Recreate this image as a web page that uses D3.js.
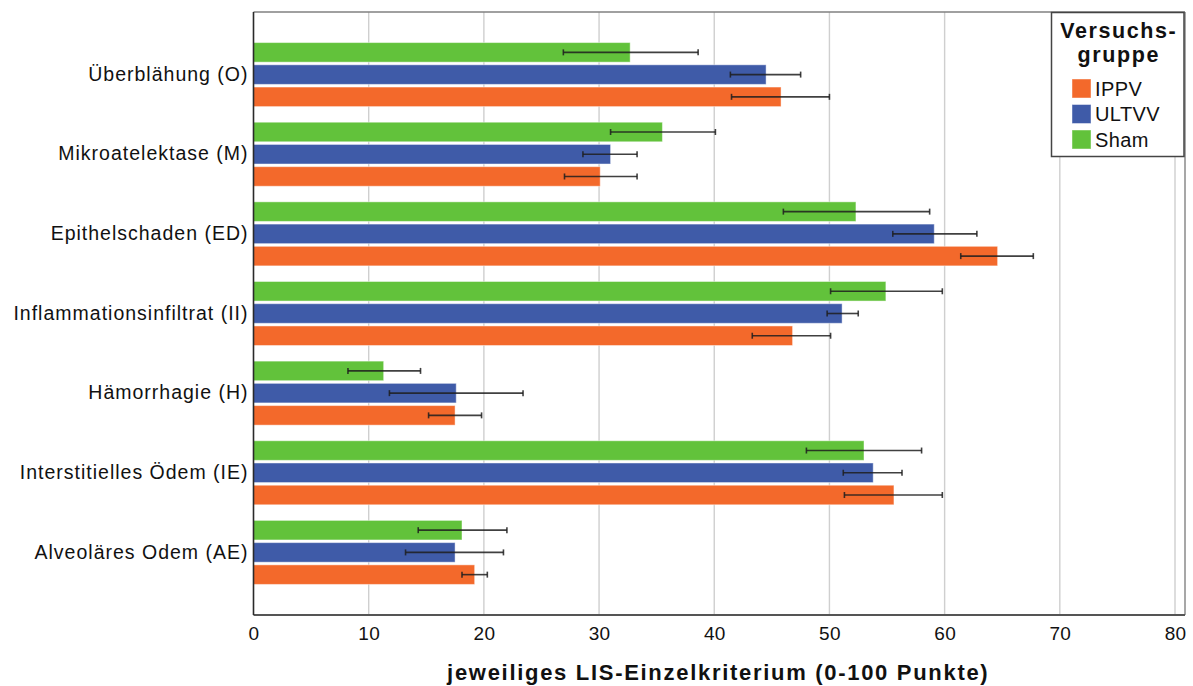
<!DOCTYPE html>
<html>
<head>
<meta charset="utf-8">
<script src="https://cdn.jsdelivr.net/npm/d3@7/dist/d3.min.js"></script>
<style>
  html, body { margin: 0; padding: 0; background: #fff; }
  svg { display: block; font-family: "Liberation Sans", Arial, sans-serif; }
</style>
</head>
<body>
<svg id="chart" width="1193" height="686"></svg>
<script>
// Lung injury score criteria (top to bottom)
const categories = [
  "Überblähung (O)",
  "Mikroatelektase (M)",
  "Epithelschaden (ED)",
  "Inflammationsinfiltrat (II)",
  "Hämorrhagie (H)",
  "Interstitielles Ödem (IE)",
  "Alveoläres Odem (AE)"
];

// Groups as listed in the legend; bars within a criterion are drawn Sham, ULTVV, IPPV
const groups = ["IPPV", "ULTVV", "Sham"];
const barOrder = ["Sham", "ULTVV", "IPPV"];

// Mean scores per group, in category order
const ippvMean  = [45.8, 30.1, 64.6, 46.8, 17.5, 55.6, 19.2];
const ultvvMean = [44.5, 31.0, 59.1, 51.1, 17.6, 53.8, 17.5];
const shamMean  = [32.7, 35.5, 52.3, 54.9, 11.3, 53.0, 18.1];

// Error bar bounds (low / high) per group
const ippvLow   = [41.5, 27.0, 61.4, 43.3, 15.2, 51.3, 18.1];
const ippvHigh  = [50.0, 33.3, 67.7, 50.1, 19.8, 59.8, 20.3];
const ultvvLow  = [41.4, 28.6, 55.5, 49.8, 11.8, 51.2, 13.2];
const ultvvHigh = [47.5, 33.3, 62.8, 52.5, 23.4, 56.3, 21.7];
const shamLow   = [26.9, 31.0, 46.0, 50.1,  8.2, 48.0, 14.3];
const shamHigh  = [38.6, 40.1, 58.7, 59.8, 14.5, 58.0, 22.0];

const xTicks = [0, 10, 20, 30, 40, 50, 60, 70, 80];
const xTitle = "jeweiliges LIS-Einzelkriterium (0-100 Punkte)";
const legendTitle = ["Versuchs-", "gruppe"];

const colors = { IPPV: "#F3692B", ULTVV: "#3F5BA8", Sham: "#62C23B" };

const seriesData = {
  IPPV:  { mean: ippvMean,  low: ippvLow,  high: ippvHigh },
  ULTVV: { mean: ultvvMean, low: ultvvLow, high: ultvvHigh },
  Sham:  { mean: shamMean,  low: shamLow,  high: shamHigh }
};

const rows = [];
categories.forEach((c, i) => {
  barOrder.forEach(g => {
    rows.push({ cat: c, group: g, mean: seriesData[g].mean[i],
                low: seriesData[g].low[i], high: seriesData[g].high[i] });
  });
});

const W = 1193, H = 686;
const margin = { left: 253.5, right: 8, top: 12, bottom: 71 };
const plotRight = W - margin.right;
const plotBottom = H - margin.bottom;

const svg = d3.select("#chart");

const x = d3.scaleLinear()
  .domain([0, 80])
  .range([margin.left, margin.left + 921.5]);

const y = d3.scaleBand()
  .domain(categories)
  .range([margin.top, plotBottom])
  .paddingInner(0.196)
  .paddingOuter(0.384);

const yInner = d3.scaleBand()
  .domain(barOrder)
  .range([0, y.bandwidth()])
  .paddingInner(0.12)
  .paddingOuter(0);

// Vertical gridlines
svg.append("g")
  .selectAll("line")
  .data(xTicks.filter(t => t > 0))
  .join("line")
  .attr("x1", d => x(d)).attr("x2", d => x(d))
  .attr("y1", margin.top).attr("y2", plotBottom)
  .attr("stroke", "#cfcfcf")
  .attr("stroke-width", 1.4);

// Plot frame: top and right in grey
svg.append("line")
  .attr("x1", margin.left).attr("x2", plotRight)
  .attr("y1", margin.top).attr("y2", margin.top)
  .attr("stroke", "#808080").attr("stroke-width", 1.5);
svg.append("line")
  .attr("x1", plotRight).attr("x2", plotRight)
  .attr("y1", margin.top).attr("y2", plotBottom)
  .attr("stroke", "#8a8a8a").attr("stroke-width", 1.5);

// Bars
svg.append("g")
  .selectAll("rect")
  .data(rows)
  .join("rect")
  .attr("x", x(0))
  .attr("y", d => y(d.cat) + yInner(d.group))
  .attr("width", d => x(d.mean) - x(0))
  .attr("height", yInner.bandwidth())
  .attr("fill", d => colors[d.group])
  .attr("stroke", "rgba(255,255,255,0.45)")
  .attr("stroke-width", 1);

// Error bars
const eb = svg.append("g")
  .attr("stroke", "#1e1e1e")
  .attr("stroke-opacity", 0.85)
  .attr("stroke-width", 1.6);

const ebRows = eb.selectAll("g").data(rows).join("g")
  .attr("transform", d => `translate(0,${y(d.cat) + yInner(d.group) + yInner.bandwidth() / 2})`);
ebRows.append("line")
  .attr("x1", d => x(d.low)).attr("x2", d => x(d.high))
  .attr("y1", 0).attr("y2", 0);
ebRows.append("line")
  .attr("x1", d => x(d.low)).attr("x2", d => x(d.low))
  .attr("y1", -3).attr("y2", 3);
ebRows.append("line")
  .attr("x1", d => x(d.high)).attr("x2", d => x(d.high))
  .attr("y1", -3).attr("y2", 3);

// Axes lines
svg.append("line")
  .attr("x1", margin.left).attr("x2", plotRight)
  .attr("y1", plotBottom).attr("y2", plotBottom)
  .attr("stroke", "#555").attr("stroke-width", 2);
svg.append("line")
  .attr("x1", margin.left).attr("x2", margin.left)
  .attr("y1", margin.top).attr("y2", plotBottom)
  .attr("stroke", "#2a2a2a").attr("stroke-width", 1.6);

// X axis tick labels
const xAxis = svg.append("g")
  .attr("transform", `translate(0,${plotBottom})`)
  .call(d3.axisBottom(x).tickValues(xTicks).tickSize(0).tickPadding(12).tickFormat(d3.format("d")));
xAxis.select(".domain").remove();
xAxis.selectAll("text")
  .attr("font-family", "'Liberation Sans', Arial, sans-serif")
  .attr("font-size", 19)
  .attr("fill", "#111")
  .style("letter-spacing", "0.3px");

// Y axis category labels
const yAxis = svg.append("g")
  .attr("transform", `translate(${margin.left},0)`)
  .call(d3.axisLeft(y).tickSize(0).tickPadding(6));
yAxis.select(".domain").remove();
yAxis.selectAll("text")
  .attr("font-family", "'Liberation Sans', Arial, sans-serif")
  .attr("font-size", 19.5)
  .attr("fill", "#111")
  .attr("dx", "1px")
  .style("letter-spacing", "1px");

// X axis title
svg.append("text")
  .attr("x", (margin.left + plotRight) / 2 - 1)
  .attr("y", 680)
  .attr("text-anchor", "middle")
  .attr("font-size", 22)
  .attr("font-weight", "bold")
  .attr("fill", "#111")
  .style("letter-spacing", "1.7px")
  .text(xTitle);

// Legend
const lg = svg.append("g");
const lgLeft = 1051.5, lgRight = 1184, lgTop = 12.5, lgBottom = 156.5;
lg.append("rect")
  .attr("x", lgLeft).attr("y", lgTop)
  .attr("width", lgRight - lgLeft).attr("height", lgBottom - lgTop)
  .attr("fill", "#fff")
  .attr("stroke", "#444").attr("stroke-width", 1.5);
lg.selectAll("text.title")
  .data(legendTitle)
  .join("text")
  .attr("class", "title")
  .attr("x", (lgLeft + lgRight) / 2 + 1)
  .attr("y", (d, i) => 38 + i * 24)
  .attr("text-anchor", "middle")
  .attr("font-size", 21.5)
  .attr("font-weight", "bold")
  .attr("fill", "#111")
  .style("letter-spacing", "1.6px")
  .text(d => d);

const lgItems = lg.selectAll("g.item")
  .data(groups)
  .join("g")
  .attr("class", "item")
  .attr("transform", (d, i) => `translate(1072,${79 + i * 25.5})`);
lgItems.append("rect")
  .attr("width", 19).attr("height", 19)
  .attr("fill", d => colors[d])
  .attr("stroke", "rgba(255,255,255,0.45)");
lgItems.append("text")
  .attr("x", 23)
  .attr("y", 16.5)
  .attr("font-size", 20)
  .attr("fill", "#111")
  .style("letter-spacing", "0.4px")
  .text(d => d);
</script>
</body>
</html>
